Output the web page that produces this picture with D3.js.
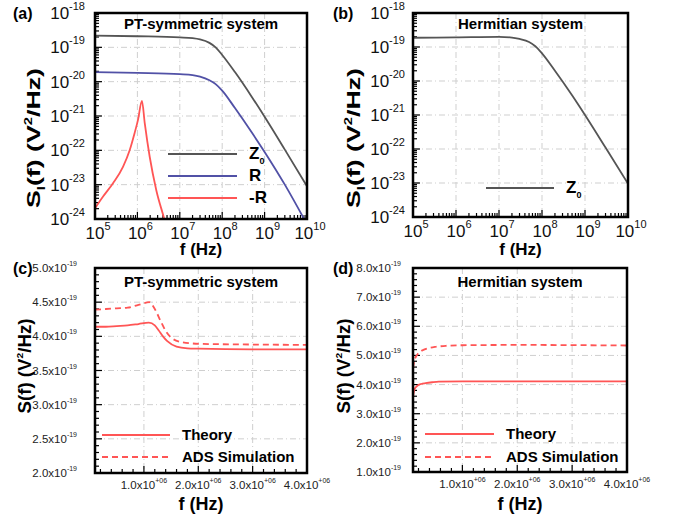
<!DOCTYPE html>
<html>
<head>
<meta charset="utf-8">
<script src="https://cdn.jsdelivr.net/npm/d3@7"></script>
<style>
  body { margin: 0; background: #fff; }
  text { font-family: "Liberation Sans", Arial, Helvetica, sans-serif; }
</style>
</head>
<body>
<svg id="chart" width="683" height="519"></svg>
<script>
// ---- data ----
// panel (a) PT-symmetric, log-log
const fA    = [1e5, 1e6, 1e7, 2e7, 3e7, 5e7, 7e7, 1e8, 2e8, 5e8, 1e9, 3e9, 1e10];
const z0A   = [2.2e-19, 2.1e-19, 1.95e-19, 1.85e-19, 1.7e-19, 1.35e-19, 1.0e-19, 6e-20, 1.9e-20, 3.6e-21, 9.5e-22, 1.05e-22, 9e-24];
const rA    = [1.9e-20, 1.8e-20, 1.65e-20, 1.55e-20, 1.4e-20, 1.1e-20, 8.5e-21, 5.5e-21, 1.7e-21, 3.3e-22, 9e-23, 1e-23, 7e-25];
const fNegR = [1e5, 1.55e5, 2.66e5, 4.57e5, 6.6e5, 8.6e5, 1.03e6, 1.28e6, 1.49e6, 1.95e6, 2.79e6, 4.3e6, 6e6];
const negR  = [2.05e-24, 4.5e-24, 1.1e-23, 3.3e-23, 1.02e-22, 3.2e-22, 7.6e-22, 2.75e-21, 6.2e-22, 6.5e-23, 6.9e-24, 1e-24, 2e-25];
// panel (b) Hermitian, log-log
const fB    = [1e5, 1e6, 1e7, 2e7, 3e7, 5e7, 7e7, 1e8, 2e8, 5e8, 1e9, 3e9, 1e10];
const z0B   = [1.87e-19, 1.92e-19, 1.98e-19, 1.9e-19, 1.72e-19, 1.4e-19, 1.05e-19, 6.5e-20, 2e-20, 3.8e-21, 1e-21, 1.1e-22, 9.5e-24];
// panel (c) PT-symmetric, linear (f in Hz, S in 1e-19 V^2/Hz)
const fCth  = [1e5, 3e5, 5e5, 7e5, 9e5, 1.09e6, 1.2e6, 1.27e6, 1.35e6, 1.43e6, 1.6e6, 1.8e6, 2e6, 3e6, 4e6];
const thC   = [4.14, 4.14, 4.15, 4.16, 4.18, 4.20, 4.16, 4.09, 4.00, 3.93, 3.85, 3.825, 3.82, 3.81, 3.81];
const fCads = [1e5, 3e5, 5e5, 7e5, 9e5, 1.1e6, 1.2e6, 1.31e6, 1.4e6, 1.49e6, 1.67e6, 2.04e6, 3e6, 4e6];
const adsC  = [4.39, 4.40, 4.41, 4.42, 4.46, 4.50, 4.40, 4.22, 4.08, 3.99, 3.92, 3.89, 3.88, 3.875];
// panel (d) Hermitian, linear
const fDth  = [1e5, 1.3e5, 1.8e5, 2.5e5, 3.3e5, 4.5e5, 5.7e5, 1e6, 2e6, 4e6];
const thD   = [3.58, 3.85, 3.96, 4.02, 4.05, 4.08, 4.10, 4.11, 4.11, 4.11];
const fDads = [1e5, 1.3e5, 2e5, 3e5, 3.9e5, 5e5, 7e5, 1e6, 2e6, 4e6];
const adsD  = [4.56, 4.85, 5.08, 5.20, 5.25, 5.29, 5.33, 5.35, 5.36, 5.34];

// tick values
const logXTicks = [5, 6, 7, 8, 9, 10];
const logYTicks = [-18, -19, -20, -21, -22, -23, -24];
const linXTicks = [1e6, 2e6, 3e6, 4e6];
const linYTicksC = [2.0, 2.5, 3.0, 3.5, 4.0, 4.5, 5.0];
const linYTicksD = [1.0, 2.0, 3.0, 4.0, 5.0, 6.0, 7.0, 8.0];

const svg = d3.select("#chart");
const red = "#ff5555", grey = "#555555", blue = "#5151a6";

function pts(xs, ys) { return xs.map((v, i) => [v, ys[i]]); }

function frame(box, id) {
  svg.append("clipPath").attr("id", id).append("rect")
    .attr("x", box.x0).attr("y", box.y0)
    .attr("width", box.x1 - box.x0).attr("height", box.y1 - box.y0);
}

function grid(g, x, y, xs, ys, box) {
  g.append("g").selectAll("line").data(xs).join("line")
    .attr("x1", d => x(d)).attr("x2", d => x(d))
    .attr("y1", box.y0).attr("y2", box.y1);
  g.append("g").selectAll("line").data(ys).join("line")
    .attr("y1", d => y(d)).attr("y2", d => y(d))
    .attr("x1", box.x0).attr("x2", box.x1);
  g.selectAll("line").attr("stroke", "#cfcfcf").attr("stroke-width", 1)
    .attr("stroke-dasharray", "6,3,1,3");
}

function ticks(g, x, y, box, xMaj, xMin, yMaj, yMin) {
  const t = g.append("g").attr("stroke", "#000").attr("stroke-width", 1.2);
  t.selectAll(".xmaj").data(xMaj).join("line")
    .attr("x1", d => x(d)).attr("x2", d => x(d)).attr("y1", box.y1).attr("y2", box.y1 - 7);
  t.selectAll(".xmin").data(xMin).join("line")
    .attr("x1", d => x(d)).attr("x2", d => x(d)).attr("y1", box.y1).attr("y2", box.y1 - 4);
  t.selectAll(".ymaj").data(yMaj).join("line")
    .attr("y1", d => y(d)).attr("y2", d => y(d)).attr("x1", box.x0).attr("x2", box.x0 + 7);
  t.selectAll(".ymin").data(yMin).join("line")
    .attr("y1", d => y(d)).attr("y2", d => y(d)).attr("x1", box.x0).attr("x2", box.x0 + 4);
}

function border(box) {
  svg.append("rect").attr("x", box.x0).attr("y", box.y0)
    .attr("width", box.x1 - box.x0).attr("height", box.y1 - box.y0)
    .attr("fill", "none").attr("stroke", "#000").attr("stroke-width", 2.5);
}

function title(box, txt, yb) {
  svg.append("text").attr("x", (box.x0 + box.x1) / 2).attr("y", yb)
    .attr("text-anchor", "middle").attr("font-size", 15).attr("font-weight", "bold").text(txt);
}

function panelLabel(txt, x, yb) {
  svg.append("text").attr("x", x).attr("y", yb).attr("font-size", 16)
    .attr("font-weight", "bold").text(txt);
}

// rotated axis title, stretched along its length to the width seen in the figure
function yLabel(cx, cy, sub, size, len) {
  const g = svg.append("g").attr("transform", `translate(${cx},${cy}) rotate(-90)`);
  const t = g.append("text").attr("text-anchor", "middle").attr("font-size", size)
    .attr("font-weight", "bold");
  t.append("tspan").text("S");
  if (sub) t.append("tspan").attr("font-size", size * 0.55).attr("dy", 5).text("I");
  t.append("tspan").attr("dy", sub ? -5 : 0).text("(f) (V");
  t.append("tspan").attr("font-size", size * 0.55).attr("dy", -8).text("2");
  t.append("tspan").attr("dy", 8).text("/Hz)");
  const w = t.node().getComputedTextLength();
  t.attr("transform", `scale(${len / w},1)`);
}

function xLabel(box, yb, size) {
  svg.append("text").attr("x", (box.x0 + box.x1) / 2).attr("y", yb)
    .attr("text-anchor", "middle").attr("font-size", size).attr("font-weight", "bold").text("f (Hz)");
}

function legendRow(x1, x2, y, color, dash, label, sub, size) {
  svg.append("line").attr("x1", x1).attr("x2", x2).attr("y1", y).attr("y2", y)
    .attr("stroke", color).attr("stroke-width", 2).attr("stroke-dasharray", dash);
  const t = svg.append("text").attr("x", x2 + 12).attr("y", y + 5)
    .attr("font-size", size).attr("font-weight", "bold");
  t.append("tspan").text(label);
  if (sub) t.append("tspan").attr("font-size", 9).attr("dy", 5).text(sub);
}

// ---- log-log panels ----
function logPanel(box, id, series, labOff) {
  const x = d3.scaleLog().domain([1e5, 1e10]).range([box.x0, box.x1]);
  const y = d3.scaleLog().domain([1e-24, 1e-18]).range([box.y1, box.y0]);
  frame(box, id);
  const g = svg.append("g");
  grid(g, x, y, logXTicks.slice(1, -1).map(e => Math.pow(10, e)),
    logYTicks.slice(1, -1).map(e => Math.pow(10, e)), box);
  const xMin = [], yMin = [];
  for (let e = 5; e < 10; e++) for (let m = 2; m < 10; m++) xMin.push(m * Math.pow(10, e));
  for (let e = -24; e < -18; e++) for (let m = 2; m < 10; m++) yMin.push(m * Math.pow(10, e));
  ticks(g, x, y, box, logXTicks.map(e => Math.pow(10, e)), xMin,
    logYTicks.map(e => Math.pow(10, e)), yMin);

  const line = d3.line().x(d => x(d[0])).y(d => y(d[1])).curve(d3.curveMonotoneX);
  svg.append("g").attr("clip-path", `url(#${id})`).selectAll("path").data(series).join("path")
    .attr("d", d => line(d.pts)).attr("fill", "none")
    .attr("stroke", d => d.color).attr("stroke-width", 1.8);

  // tick labels
  logYTicks.forEach(e => {
    const t = svg.append("text").attr("x", box.x0 - labOff).attr("y", y(Math.pow(10, e)) + 6)
      .attr("text-anchor", "end").attr("font-size", 17).attr("fill", "#111");
    t.append("tspan").text("10");
    t.append("tspan").attr("font-size", 11).attr("dy", -9).text(e);
  });
  logXTicks.forEach(e => {
    const t = svg.append("text").attr("x", x(Math.pow(10, e)) + 3).attr("y", box.y1 + 20)
      .attr("text-anchor", "middle").attr("font-size", 17).attr("fill", "#111");
    t.append("tspan").text("10");
    t.append("tspan").attr("font-size", 11).attr("dy", -9).text(e);
  });
  border(box);
}

// ---- linear panels ----
function linPanel(box, id, yTicks, yStep, series, labOff) {
  const x = d3.scaleLinear().domain([1e5, 4e6]).range([box.x0, box.x1]);
  const y = d3.scaleLinear().domain([yTicks[0], yTicks[yTicks.length - 1]]).range([box.y1, box.y0]);
  frame(box, id);
  const g = svg.append("g");
  grid(g, x, y, linXTicks.slice(0, -1), yTicks.slice(1, -1), box);
  const xMin = d3.range(2e5, 4e6, 2e5).filter(v => v % 1e6 !== 0);
  const yMin = [];
  for (let i = 0; i < yTicks.length - 1; i++)
    for (let k = 1; k < 5; k++) yMin.push(yTicks[i] + k * yStep / 5);
  ticks(g, x, y, box, linXTicks, xMin, yTicks, yMin);

  const line = d3.line().x(d => x(d[0])).y(d => y(d[1])).curve(d3.curveMonotoneX);
  svg.append("g").attr("clip-path", `url(#${id})`).selectAll("path").data(series).join("path")
    .attr("d", d => line(d.pts)).attr("fill", "none")
    .attr("stroke", red).attr("stroke-width", 1.8)
    .attr("stroke-dasharray", d => d.dash);

  yTicks.forEach(v => {
    const t = svg.append("text").attr("x", box.x0 - labOff).attr("y", y(v) + 4)
      .attr("text-anchor", "end").attr("font-size", 11.5).attr("fill", "#222");
    t.append("tspan").text(d3.format(".1f")(v) + "x10");
    t.append("tspan").attr("font-size", 7).attr("dy", -6).text("-19");
  });
  linXTicks.forEach(v => {
    const t = svg.append("text").attr("x", x(v)).attr("y", box.y1 + 16)
      .attr("text-anchor", "middle").attr("font-size", 11.5).attr("fill", "#222");
    t.append("tspan").text(d3.format(".1f")(v / 1e6) + "x10");
    t.append("tspan").attr("font-size", 7).attr("dy", -6).text("+06");
  });
  border(box);
}

const boxA = {x0: 95, x1: 307, y0: 13, y1: 219};
const boxB = {x0: 413, x1: 628, y0: 13, y1: 217};
const boxC = {x0: 95, x1: 307, y0: 268, y1: 473};
const boxD = {x0: 413, x1: 627, y0: 268, y1: 472};

logPanel(boxA, "clipA", [
  {pts: pts(fA, z0A), color: grey},
  {pts: pts(fA, rA), color: blue},
  {pts: pts(fNegR, negR), color: red}
], 10);
logPanel(boxB, "clipB", [{pts: pts(fB, z0B), color: grey}], 8);

linPanel(boxC, "clipC", linYTicksC, 0.5, [
  {pts: pts(fCth, thC), dash: null},
  {pts: pts(fCads, adsC), dash: "6,4"}
], 18);
linPanel(boxD, "clipD", linYTicksD, 1.0, [
  {pts: pts(fDth, thD), dash: null},
  {pts: pts(fDads, adsD), dash: "6,4"}
], 12);

// titles, labels, legends
title(boxA, "PT-symmetric system", 29);
title(boxB, "Hermitian system", 29);
title(boxC, "PT-symmetric system", 287);
title(boxD, "Hermitian system", 287);

panelLabel("(a)", 13, 19);
panelLabel("(b)", 333, 19);
panelLabel("(c)", 13, 274);
panelLabel("(d)", 333, 274);

yLabel(40, 138, true, 19, 140);
yLabel(360, 138, true, 19, 140);
yLabel(31, 366, false, 18, 95);
yLabel(350, 366, false, 18, 95);

xLabel(boxA, 255, 17);
xLabel(boxB, 255, 17);
xLabel(boxC, 510, 18);
xLabel(boxD, 510, 18);

legendRow(168, 237, 154, grey, null, "Z", "0", 17);
legendRow(168, 237, 176, blue, null, "R", null, 17);
legendRow(168, 237, 198, red, null, "-R", null, 17);
legendRow(486, 554, 188, grey, null, "Z", "0", 17);

legendRow(102, 170, 435, red, null, "Theory", null, 15);
legendRow(102, 170, 457, red, "6,4", "ADS Simulation", null, 15);
legendRow(425, 494, 434, red, null, "Theory", null, 15);
legendRow(425, 494, 457, red, "6,4", "ADS Simulation", null, 15);
</script>
</body>
</html>
